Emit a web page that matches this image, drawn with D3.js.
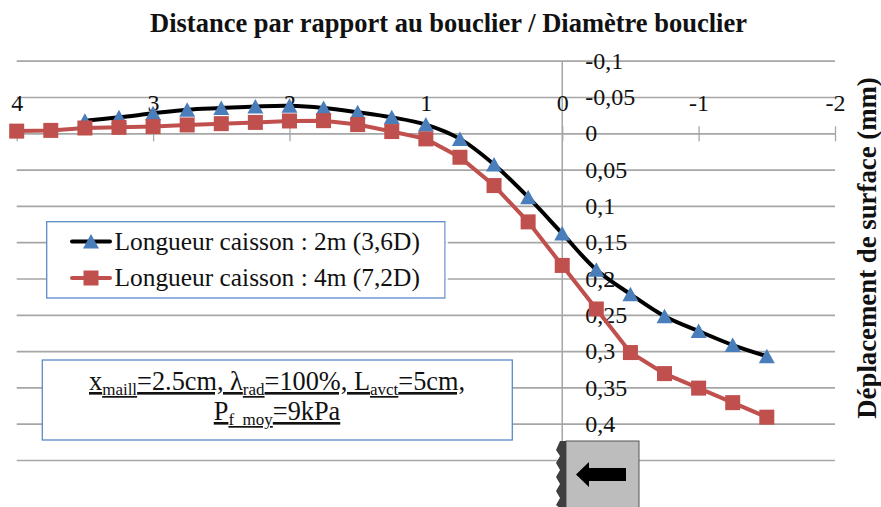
<!DOCTYPE html>
<html><head><meta charset="utf-8">
<script src="https://cdn.jsdelivr.net/npm/d3@7"></script>
<style>html,body{margin:0;background:#fff}svg{display:block}text{font-family:"Liberation Serif",serif;fill:#111}</style>
</head><body><svg id="c" width="881" height="507"></svg>
<script>
const distances=[4,3.75,3.5,3.25,3,2.75,2.5,2.25,2,1.75,1.5,1.25,1,0.75,0.5,0.25,0,-0.25,-0.5,-0.75,-1,-1.25,-1.5];
const seriesA=[null,null,-0.0174,-0.022,-0.0275,-0.0325,-0.0348,-0.037,-0.038,-0.035,-0.029,-0.022,-0.012,0.0077,0.043,0.088,0.138,0.188,0.2216,0.252,0.2724,0.2916,0.307];
const seriesB=[-0.003,-0.004,-0.0073,-0.0082,-0.0092,-0.0115,-0.0133,-0.015,-0.017,-0.0174,-0.012,-0.0024,0.0077,0.033,0.072,0.122,0.182,0.242,0.302,0.331,0.351,0.371,0.391];
const xTicks=[4,3,2,1,0,-1,-2];
const xLabels=["4","3","2","1","0","-1","-2"];
const yTicks=[-0.1,-0.05,0,0.05,0.1,0.15,0.2,0.25,0.3,0.35,0.4,0.45];
const yLabels=["-0,1","-0,05","0","0,05","0,1","0,15","0,2","0,25","0,3","0,35","0,4",""];
const seriesNames=["Longueur caisson : 2m (3,6D)","Longueur caisson : 4m (7,2D)"];
const titleText="Distance par rapport au bouclier / Diamètre bouclier";
const yTitle="Déplacement de surface (mm)";

const svg=d3.select("#c");
const x=d3.scaleLinear().domain([4,-2]).range([16.7,835]);
const y=d3.scaleLinear().domain([-0.1,0.45]).range([60.7,460]);
const GRID="#a6a6a6",BLACK="#000",RED="#c0504d",BLUE="#4a7ebb",BOX="#5b8bc9";

// gridlines
const gridAxis=d3.axisLeft(y).tickValues(yTicks).tickSize(x.range()[0]-x.range()[1]).tickFormat("");
svg.append("g").attr("transform",`translate(${x.range()[0]},0)`).call(gridAxis)
 .call(g=>g.select(".domain").remove())
 .call(g=>g.selectAll("line").attr("stroke",GRID).attr("stroke-width",1.7));

// vertical axis
svg.append("line").attr("x1",x(0)).attr("x2",x(0)).attr("y1",y(-0.1)).attr("y2",y(0.45)).attr("stroke",GRID).attr("stroke-width",1.5);

// x axis
const xAxis=d3.axisTop(x).tickValues(xTicks).tickSize(0).tickPadding(22).tickFormat((d,i)=>xLabels[i]);
svg.append("g").attr("transform",`translate(0,${y(0)})`).call(xAxis)
 .call(g=>g.select(".domain").remove())
 .call(g=>g.selectAll("text").attr("font-size",24).attr("font-family","Liberation Serif").attr("fill","#111"))
 .call(g=>g.selectAll("line").attr("y1",-7).attr("y2",8).attr("stroke",GRID).attr("stroke-width",1.3));

// y axis labels
const yAxis=d3.axisRight(y).tickValues(yTicks).tickSize(0).tickPadding(23).tickFormat((d,i)=>yLabels[i]);
svg.append("g").attr("transform",`translate(${x(0)},0)`).call(yAxis)
 .call(g=>g.select(".domain").remove())
 .call(g=>g.selectAll("text").attr("font-size",24).attr("font-family","Liberation Serif").attr("fill","#111"));

// titles
svg.append("text").attr("x",448.5).attr("y",32).attr("text-anchor","middle").attr("font-size",26.5).attr("font-weight","bold").text(titleText);
svg.append("text").attr("transform","translate(876,248) rotate(-90)").attr("text-anchor","middle").attr("font-size",26.8).attr("font-weight","bold").text(yTitle);

// series
const rowsA=distances.map((d,i)=>({d,v:seriesA[i]})).filter(r=>r.v!==null);
const rowsB=distances.map((d,i)=>({d,v:seriesB[i]}));
const lineSmooth=d3.line().x(r=>x(r.d)).y(r=>y(r.v)).curve(d3.curveCatmullRom.alpha(0.5));
const lineStraight=d3.line().x(r=>x(r.d)).y(r=>y(r.v));
svg.append("path").attr("d",lineSmooth(rowsA)).attr("fill","none").attr("stroke",BLACK).attr("stroke-width",4);
svg.append("path").attr("d",lineStraight(rowsB)).attr("fill","none").attr("stroke",RED).attr("stroke-width",4);
const tri="M0,-7.5L8,7L-8,7Z";
svg.append("g").selectAll("path").data(rowsA).join("path")
 .attr("d",tri).attr("transform",r=>`translate(${x(r.d)},${y(r.v)})`).attr("fill",BLUE);
svg.append("g").selectAll("rect").data(rowsB).join("rect")
 .attr("x",r=>x(r.d)-7.5).attr("y",r=>y(r.v)-7.5).attr("width",15).attr("height",15).attr("fill",RED);

// legend
const leg=svg.append("g");
leg.append("rect").attr("x",46.7).attr("y",221.7).attr("width",398.3).attr("height",76.3).attr("fill","#fff").attr("stroke",BOX).attr("stroke-width",1.3);
leg.append("rect").attr("x",445.7).attr("y",221).attr("width",2).attr("height",78).attr("fill","#fff");
[[241.5,BLACK],[278,RED]].forEach(([ly,c],i)=>{
  leg.append("line").attr("x1",72).attr("x2",110).attr("y1",ly).attr("y2",ly).attr("stroke",c).attr("stroke-width",4).attr("stroke-linecap","round");
  if(i==0) leg.append("path").attr("d",tri).attr("transform",`translate(91,${ly})`).attr("fill",BLUE);
  else leg.append("rect").attr("x",83.5).attr("y",ly-7.5).attr("width",15).attr("height",15).attr("fill",RED);
  leg.append("text").attr("x",114.5).attr("y",ly+8).attr("font-size",25.4).text(seriesNames[i]);
});

// note box
svg.append("rect").attr("x",42.3).attr("y",360).attr("width",470).attr("height",80).attr("fill","#fff").attr("stroke",BOX).attr("stroke-width",1.3);
const note=(yy,parts)=>{
  const t=svg.append("text").attr("x",277).attr("y",yy).attr("text-anchor","middle").attr("font-size",26.3).attr("text-decoration","underline");
  parts.forEach(([s,sub],i)=>{
    const ts=t.append("tspan").text(s);
    if(sub){ts.attr("font-size",17).attr("dy",5);}
    else if(i>0){ts.attr("dy",-5);}
  });
};
note(390,[["x"],["maill",1],["=2.5cm, λ"],["rad",1],["=100%, L"],["avct",1],["=5cm,"]]);
note(420,[["P"],["f_moy",1],["=9kPa"]]);

// shield sketch
const sh=svg.append("g");
sh.append("rect").attr("x",566).attr("y",441).attr("width",73).attr("height",67).attr("fill","#bdbdbd").attr("stroke","#555").attr("stroke-width",1);
sh.append("rect").attr("x",560).attr("y",441).attr("width",6).attr("height",67).attr("fill","#3f3f3f");
sh.append("path").attr("d","M560,441L556,450L560,456L556,463L560,470L556,477L560,484L556,491L560,498L556,505L560,508Z").attr("fill","#3f3f3f");
sh.append("path").attr("d","M576,474.5L589,462V468H626V481H589V487Z").attr("fill","#000");
</script></body></html>
